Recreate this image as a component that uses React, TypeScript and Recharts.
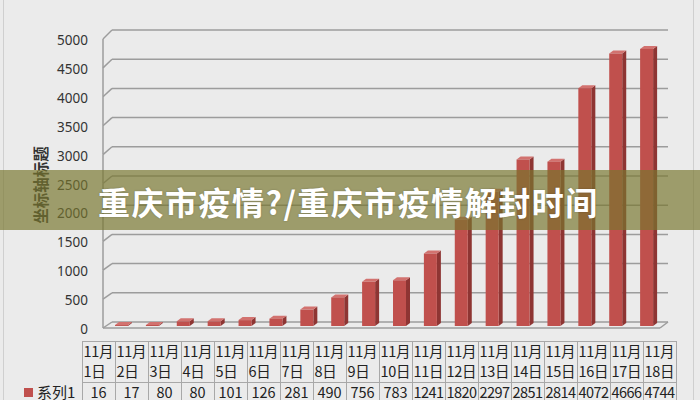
import React from 'react';
import { BarChart, Bar, XAxis, YAxis, CartesianGrid } from 'recharts';

// categories / values
const dates = [
  '11月1日', '11月2日', '11月3日', '11月4日', '11月5日', '11月6日',
  '11月7日', '11月8日', '11月9日', '11月10日', '11月11日', '11月12日',
  '11月13日', '11月14日', '11月15日', '11月16日', '11月17日', '11月18日',
];
const cases = [16, 17, 80, 80, 101, 126, 281, 490, 756, 783, 1241, 1820, 2297, 2851, 2814, 4072, 4666, 4744];
const yTicks = [0, 500, 1000, 1500, 2000, 2500, 3000, 3500, 4000, 4500, 5000];
const seriesName = '系列1';
const axisTitle = '坐标轴标题';
const bannerText = '重庆市疫情?/重庆市疫情解封时间';

const chartData = dates.map((d, i) => ({ date: d, value: cases[i] }));

// plot (back wall) geometry
const PLOT_LEFT = 112;
const PLOT_TOP = 30;
const PLOT_BOTTOM = 322;
const PLOT_RIGHT = 668;
const FRONT_LEFT = 103;
const FLOOR_FRONT_RIGHT = 660;
const GRID = '#9c9c9c';
const CJK = '"Noto Sans CJK SC", "Noto Sans", sans-serif';

const depthAt = (v: number) => 6 + (3 * v) / 5000;

const WallTick = (props: any) => {
  const { y, payload } = props;
  const v = payload.value as number;
  const dy = depthAt(v);
  const step = (PLOT_BOTTOM - PLOT_TOP) / 10;
  return (
    <g>
      <line x1={FRONT_LEFT} y1={y + dy} x2={PLOT_LEFT} y2={y} stroke={GRID} strokeWidth={1.5} />
      {v > 0 && (
        <line x1={FRONT_LEFT} y1={y + dy} x2={FRONT_LEFT} y2={y + step + depthAt(v - 500)} stroke={GRID} strokeWidth={1.5} />
      )}
      {v === 0 && (
        <g>
          <line x1={FRONT_LEFT} y1={y + dy} x2={FLOOR_FRONT_RIGHT} y2={y + dy} stroke={GRID} strokeWidth={1.5} />
          <line x1={FLOOR_FRONT_RIGHT} y1={y + dy} x2={PLOT_RIGHT} y2={y} stroke={GRID} strokeWidth={1.5} />
        </g>
      )}
      <text x={88} y={y + dy + 1} textAnchor="end" dominantBaseline="central"
        fontSize={13.5} fontFamily='"Noto Sans", sans-serif' fill="#333">
        {v}
      </text>
    </g>
  );
};

// excel style 3d column: front face pulled toward the viewer, side + top cap
const Column3D = (props: any) => {
  const { x, y, width, height } = props;
  const fx = x - 6;
  const fy = y + 4;
  const w = width;
  const h = Math.max(height, 0);
  const d = 4;
  const dd = 3;
  return (
    <g>
      <polygon
        points={`${fx + w},${fy} ${fx + w + d},${fy - dd} ${fx + w + d},${fy + h - dd} ${fx + w},${fy + h}`}
        fill="#8e3533"
      />
      <polygon
        points={`${fx},${fy} ${fx + d},${fy - dd} ${fx + w + d},${fy - dd} ${fx + w},${fy}`}
        fill="#d2726f"
      />
      <rect x={fx} y={fy} width={w} height={h} fill="#c0504d" />
    </g>
  );
};

const COL_W = 33;
const TABLE_LEFT = 82;

export default function App() {
  return (
    <div style={{ position: 'fixed', left: 0, top: 0, width: 700, height: 400, background: '#ebebeb', overflow: 'hidden' }}>
      <div style={{ position: 'absolute', left: 3, top: 0, width: 1, height: 400, background: '#cfcfcf' }} />
      <div style={{ position: 'absolute', left: 693, top: 0, width: 1, height: 400, background: '#cfcfcf' }} />

      <div style={{ position: 'absolute', left: 0, top: 0 }}>
        <BarChart width={700} height={400} data={chartData}
          margin={{ top: PLOT_TOP, right: 700 - PLOT_RIGHT, bottom: 400 - PLOT_BOTTOM, left: PLOT_LEFT - 60 }}>
          <CartesianGrid vertical={false} stroke={GRID} strokeWidth={1.5} />
          <XAxis dataKey="date" hide />
          <YAxis width={60} domain={[0, 5000]} ticks={yTicks} interval={0}
            axisLine={false} tickLine={false} tick={<WallTick />} />
          <Bar dataKey="value" name={seriesName} barSize={13} shape={<Column3D />} isAnimationActive={false} />
        </BarChart>
      </div>

      <div style={{
        position: 'absolute', left: 40, top: 185, transform: 'translate(-50%, -50%) rotate(-90deg)',
        fontFamily: CJK, fontWeight: 700, fontSize: 15.5, color: '#333', whiteSpace: 'nowrap',
      }}>
        {axisTitle}
      </div>

      <table style={{
        position: 'absolute', left: 0, top: 341, borderCollapse: 'collapse', tableLayout: 'fixed',
        fontFamily: CJK, fontSize: 14.5, color: '#222',
      }}>
        <colgroup>
          <col style={{ width: TABLE_LEFT }} />
          {dates.map((d) => <col key={d} style={{ width: COL_W }} />)}
        </colgroup>
        <tbody>
          <tr style={{ height: 41 }}>
            <td style={{ padding: 0 }} />
            {dates.map((d) => {
              const [m, day] = d.split('月');
              return (
                <td key={d} style={{
                  border: '1px solid #a8a8a8', padding: '0 0 0 1px', lineHeight: '20px',
                  verticalAlign: 'middle', whiteSpace: 'nowrap', overflow: 'visible', letterSpacing: -0.3,
                }}>
                  <div style={{ marginTop: -2 }}>{m}月</div>
                  <div>{day}</div>
                </td>
              );
            })}
          </tr>
          <tr style={{ height: 22 }}>
            <td style={{ padding: '0 0 0 24px', whiteSpace: 'nowrap', fontSize: 15, lineHeight: '18px', verticalAlign: 'top' }}>
              <span style={{ display: 'inline-block', width: 9, height: 9, background: '#c0504d', marginRight: 4, verticalAlign: 1 }} />
              {seriesName}
            </td>
            {cases.map((c, i) => (
              <td key={dates[i]} style={{
                border: '1px solid #a8a8a8', padding: 0, textAlign: 'center', whiteSpace: 'nowrap',
                lineHeight: '18px', verticalAlign: 'top', letterSpacing: c >= 1000 ? -0.6 : 0,
              }}>
                {c}
              </td>
            ))}
          </tr>
        </tbody>
      </table>

      <div style={{
        position: 'absolute', left: 0, top: 170, width: 700, height: 60,
        background: 'rgba(120, 118, 46, 0.68)',
      }} />
      <div style={{
        position: 'absolute', left: 98, top: 178, fontFamily: CJK, fontWeight: 700, fontSize: 32,
        letterSpacing: 1.5, lineHeight: '46px', color: '#fff', whiteSpace: 'nowrap',
        textShadow: '0 0 2px rgba(0,0,0,0.25)',
      }}>
        {bannerText}
      </div>
    </div>
  );
}
